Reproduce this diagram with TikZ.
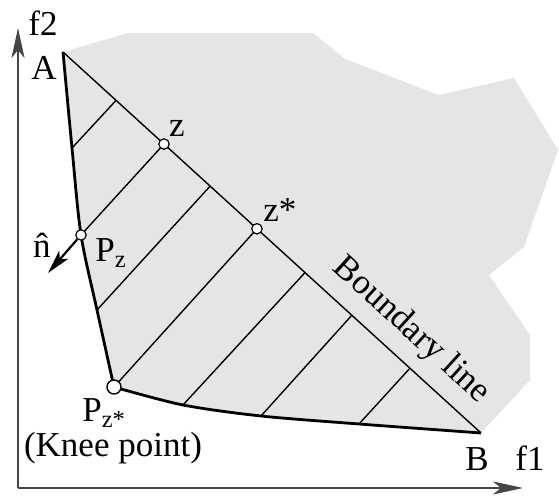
\documentclass[tikz,border=0pt]{standalone}
\usepackage{fontspec}
\setmainfont{Liberation Serif}
\usetikzlibrary{arrows.meta,calc}
\usepackage{xcolor}
\definecolor{regiongray}{RGB}{229,229,229}
\definecolor{axisgray}{RGB}{70,70,70}

\begin{document}
\begin{tikzpicture}[x=0.5pt, y=-0.5pt, font=\fontsize{17.5}{20}\selectfont,
  axis/.style={draw=axisgray, line width=1.1pt, -{Stealth[length=15pt, width=6.5pt, inset=4pt]}},
  front/.style={line width=1.4pt, line join=round},
  hatch/.style={line width=0.7pt},
  smalldot/.style={circle, draw, fill=white, line width=0.6pt, inner sep=0pt, minimum size=5.2pt},
  kneedot/.style={circle, draw, fill=white, line width=0.7pt, inner sep=0pt, minimum size=7pt},
  lbl/.style={inner sep=0pt}]
\useasboundingbox (0,0) rectangle (559,496);

% end points and points on the front
\coordinate (A) at (63,52);
\coordinate (B) at (481,433);
\coordinate (c1) at (72,148);
\coordinate (Pz) at (81,235);
\coordinate (c3) at (97,310);
\coordinate (K) at (114,387);
\coordinate (d1) at (183,405);
\coordinate (d2) at (261,416);
\coordinate (d3) at (359,424);

% points on the boundary line
\coordinate (b1) at ($(A)!0.127!(B)$);
\coordinate (z) at ($(A)!0.2416!(B)$);
\coordinate (b3) at ($(A)!0.352!(B)$);
\coordinate (zs) at ($(A)!0.464!(B)$);
\coordinate (b5) at ($(A)!0.579!(B)$);
\coordinate (b6) at ($(A)!0.691!(B)$);
\coordinate (b7) at ($(A)!0.830!(B)$);

% shaded region
\fill[regiongray] (A) -- (128,33) -- (313,33) -- (345,59) -- (439,95) -- (514,78)
  -- (558,150) -- (524,247) -- (489,275) -- (530,335) -- (530,380) -- (B)
  -- plot[smooth] coordinates {(B) (d3) (d2) (d1) (K)}
  -- plot[smooth] coordinates {(K) (c3) (Pz) (c1) (A)} -- cycle;

% axes
\coordinate (O) at (18,488);
\coordinate (ytip) at (18,28);
\coordinate (xtip) at (523,488);
\draw[axis] (O) -- (ytip);
\draw[axis] (O) -- (xtip);

% hatching
\draw[hatch] (b1) -- (c1);
\draw[hatch] (z) -- (Pz);
\draw[hatch] (b3) -- (c3);
\draw[hatch] (zs) -- (K);
\draw[hatch] (b5) -- (d1);
\draw[hatch] (b6) -- (d2);
\draw[hatch] (b7) -- (d3);

% boundary line
\draw[hatch] (A) -- node[pos=0.787, sloped, above=6pt, lbl] (bl) {Boundary line} (B);

% pareto front
\draw[front] plot[smooth] coordinates {(A) (c1) (Pz) (c3) (K)};
\draw[front] plot[smooth] coordinates {(K) (d1) (d2) (d3) (B)};

% points
\node[smalldot] (zdot) at (z) {};
\node[smalldot] (zsdot) at (zs) {};
\node[smalldot] (pzdot) at (Pz) {};
\node[kneedot] (kdot) at (K) {};

% normal vector
\coordinate (nend) at (48,273);
\draw[line width=1.1pt, -{Stealth[length=12pt, width=6pt, inset=3pt]}] (pzdot) -- (nend);

% labels
\node[lbl, anchor=base] (f2) at (43,36) {f2};
\node[lbl, anchor=base] (f1) at (530,471) {f1};
\node[lbl, anchor=base] (Albl) at (44,80) {A};
\node[lbl, anchor=base] (Blbl) at (477,471) {B};
\node[lbl, anchor=base] (zlbl) at (177,137) {z};
\node[lbl, anchor=base west] (zslbl) at (263,222) {z*};
\node[lbl, anchor=base] (nlbl) at (42,258) {\^{n}};
\node[lbl, anchor=base west] (pzlbl) at (95,262) {P\textsubscript{z}};
\node[lbl, anchor=base west] (klbl) at (82,422) {P\textsubscript{z*}};
\node[lbl, anchor=base] (knee) at (113,457) {(Knee point)};
\end{tikzpicture}
\end{document}
